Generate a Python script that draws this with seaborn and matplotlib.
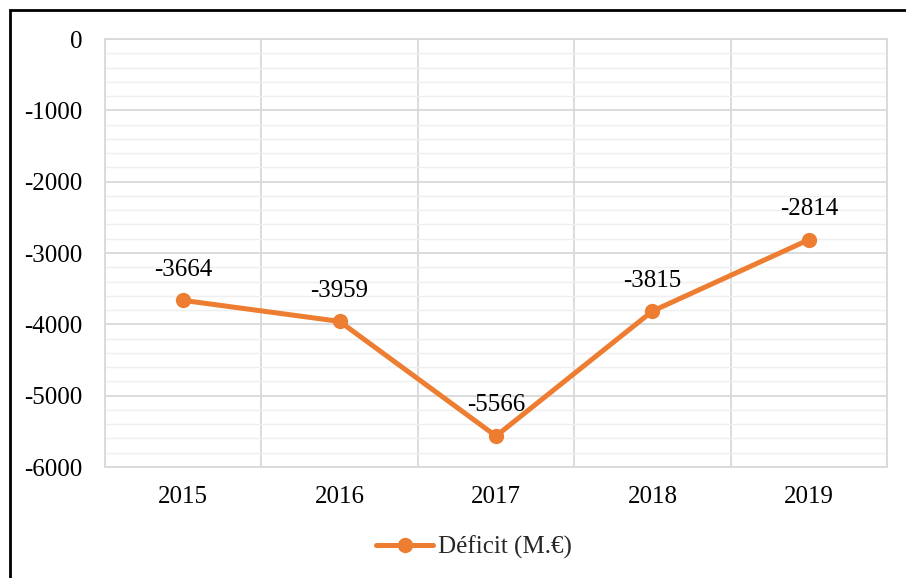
import matplotlib
matplotlib.use("Agg")
import matplotlib.pyplot as plt
import seaborn as sns
import pandas as pd
import numpy as np
from matplotlib.patches import Rectangle
from matplotlib.lines import Line2D

years = ["2015", "2016", "2017", "2018", "2019"]
deficit = [-3664, -3959, -5566, -3815, -2814]
series_name = "Déficit (M.€)"

sns.set_theme(style="white")
plt.rcParams['font.family'] = ['Liberation Serif', 'DejaVu Serif']

df = pd.DataFrame({"pos": np.arange(len(years)), "value": deficit})

fig = plt.figure(figsize=(9.06, 5.78), dpi=100)
W, H = 906, 578
ax = fig.add_axes([105 / W, 1 - 467 / H, (887 - 105) / W, (467 - 39) / H])

orange = "#ED7D31"
FS = 18
sns.lineplot(data=df, x="pos", y="value", ax=ax, color=orange, linewidth=3.6,
             marker="o", markersize=11, markeredgewidth=0, zorder=5)

ax.set_xlim(-0.5, len(years) - 0.5)
ax.set_ylim(-6000, 0)
ax.set_yticks(np.arange(-6000, 1, 1000))
ax.set_yticks(np.arange(-6000, 1, 200), minor=True)
ax.set_yticklabels([f"{int(v)}" for v in np.arange(-6000, 1, 1000)])
ax.set_xticks(np.arange(len(years)))
ax.set_xticklabels(years)
ax.set_xticks(np.arange(-0.5, len(years), 1.0), minor=True)

ax.grid(False)
ax.grid(which="major", axis="y", color="#D9D9D9", linewidth=1.3)
ax.grid(which="minor", axis="y", color="#EFEFEF", linewidth=1.0)
ax.grid(which="minor", axis="x", color="#D9D9D9", linewidth=1.3)
ax.set_axisbelow(True)
for s in ax.spines.values():
    s.set_color("#D9D9D9")
    s.set_linewidth(1.3)

ax.tick_params(axis="both", which="both", length=0, labelsize=FS, colors="black")
ax.tick_params(axis="y", pad=16)
ax.tick_params(axis="x", pad=14)
ax.set_xlabel("")
ax.set_ylabel("")

for i, v in enumerate(deficit):
    ax.annotate(f"{v}", (i, v), xytext=(0, 22), textcoords="offset points",
                ha="center", va="center", fontsize=FS, color="black", zorder=6)

handle = Line2D([], [], color=orange, linewidth=3.6, marker="o", markersize=11,
                markeredgewidth=0)
fig.legend([handle], [series_name], loc="center", bbox_to_anchor=(474 / W, 1 - 547 / H),
           frameon=False, fontsize=FS, handlelength=2.3, handletextpad=0.2)

fig.patches.append(Rectangle((10 / W, -0.1), 1.2, 1 - 10 / H + 0.1,
                             transform=fig.transFigure, fill=False,
                             edgecolor="black", linewidth=2.0))

fig.savefig("out.png", dpi=100)
